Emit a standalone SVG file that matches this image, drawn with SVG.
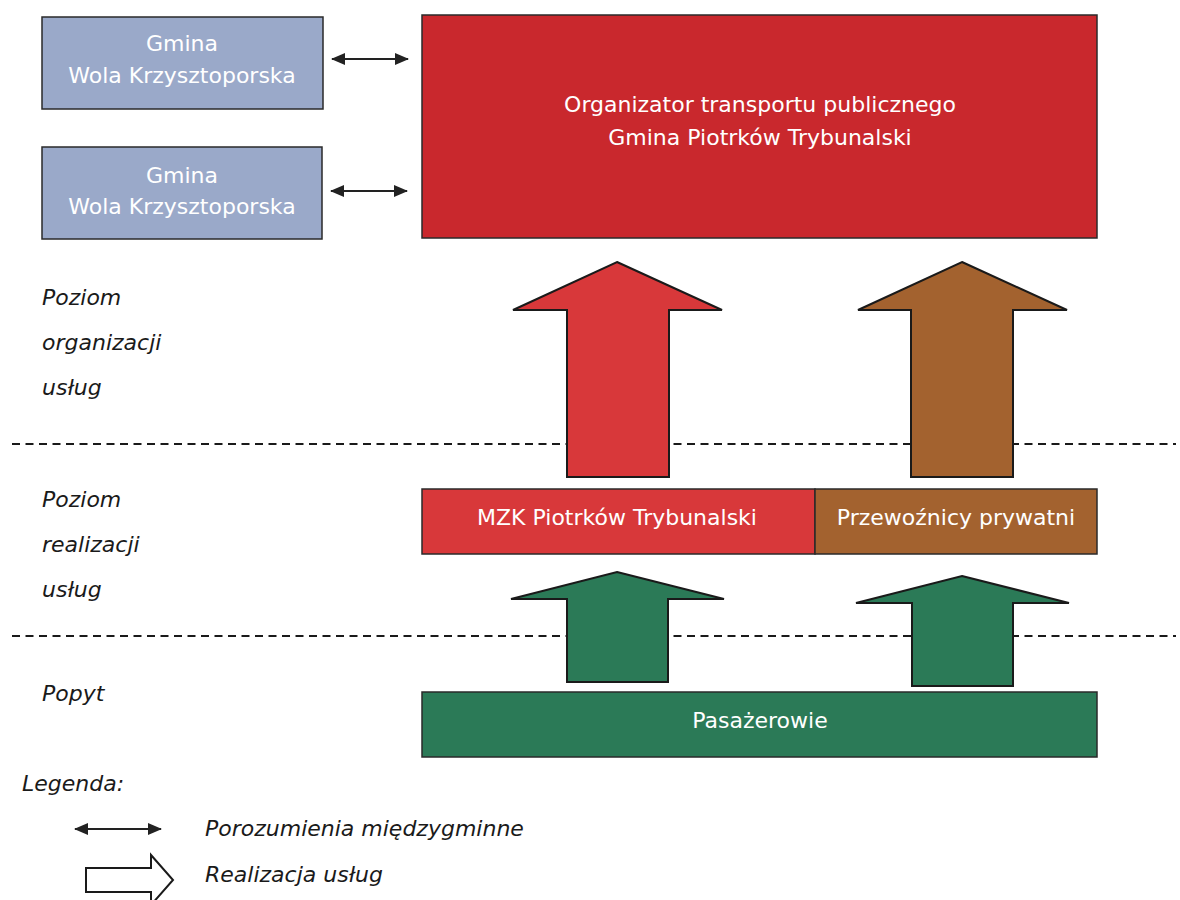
<svg xmlns="http://www.w3.org/2000/svg" width="1180" height="900" viewBox="0 0 1180 900">
<style>
.box{stroke:#2a2a2a;stroke-width:1.5}
.blue{fill:#9aa9c9}
.red{fill:#c9282d}
.red2{fill:#d8383a}
.brown{fill:#a3622f}
.green{fill:#2b7a57}
.wt{font-family:"DejaVu Sans",Verdana,sans-serif;font-size:22px;fill:#ffffff;text-anchor:middle}
.lbl{font-family:"DejaVu Sans",Verdana,sans-serif;font-style:italic;font-size:22px;fill:#1a1a1a}
.dash{stroke:#1a1a1a;stroke-width:2;stroke-dasharray:8 5.5;fill:none}
.conn{stroke:#222;stroke-width:2;fill:none}
.big{stroke:#1a1a1a;stroke-width:2;stroke-linejoin:miter}
</style>
<defs>
<marker id="ah" viewBox="0 0 14 12" refX="13" refY="6" markerWidth="14" markerHeight="12" markerUnits="userSpaceOnUse" orient="auto-start-reverse">
<path d="M0,0 L14,6 L0,12 Z" fill="#222"/>
</marker>
</defs>
<rect width="1180" height="900" fill="#ffffff"/>

<g id="levels">
<line class="dash" x1="12" y1="444" x2="1176" y2="444"/>
<line class="dash" x1="12" y1="636" x2="1176" y2="636"/>
<text class="lbl" x="42" y="305">Poziom</text>
<text class="lbl" x="42" y="350">organizacji</text>
<text class="lbl" x="42" y="395">usług</text>
<text class="lbl" x="42" y="507">Poziom</text>
<text class="lbl" x="42" y="552">realizacji</text>
<text class="lbl" x="42" y="597">usług</text>
<text class="lbl" x="42" y="701">Popyt</text>
</g>

<g id="gmina1">
<rect class="box blue" x="42" y="17" width="281" height="92"/>
<text class="wt" x="182" y="51">Gmina</text>
<text class="wt" x="182" y="83">Wola Krzysztoporska</text>
</g>
<g id="gmina2">
<rect class="box blue" x="42" y="147" width="280" height="92"/>
<text class="wt" x="182" y="183">Gmina</text>
<text class="wt" x="182" y="214">Wola Krzysztoporska</text>
</g>
<g id="organizator">
<rect class="box red" x="422" y="15" width="675" height="223"/>
<text class="wt" x="760" y="112">Organizator transportu publicznego</text>
<text class="wt" x="760" y="145">Gmina Piotrków Trybunalski</text>
</g>
<g id="mzk">
<rect class="box red2" x="422" y="489" width="393" height="65"/>
<text class="wt" x="617" y="525">MZK Piotrków Trybunalski</text>
</g>
<g id="przewoznicy">
<rect class="box brown" x="815" y="489" width="282" height="65"/>
<text class="wt" x="956" y="525">Przewoźnicy prywatni</text>
</g>
<g id="pasazerowie">
<rect class="box green" x="422" y="692" width="675" height="65"/>
<text class="wt" x="760" y="728">Pasażerowie</text>
</g>

<g id="connectors">
<line class="conn" x1="332" y1="59" x2="408" y2="59" marker-start="url(#ah)" marker-end="url(#ah)"/>
<line class="conn" x1="331" y1="191" x2="407" y2="191" marker-start="url(#ah)" marker-end="url(#ah)"/>
<path class="big red2" d="M617,262 L722,310 L669,310 L669,477 L567,477 L567,310 L513,310 Z"/>
<path class="big brown" d="M962,262 L1067,310 L1013,310 L1013,477 L911,477 L911,310 L858,310 Z"/>
<path class="big green" d="M617,572 L724,599 L668,599 L668,682 L567,682 L567,599 L511,599 Z"/>
<path class="big green" d="M962,576 L1069,603 L1013,603 L1013,686 L912,686 L912,603 L856,603 Z"/>
</g>

<g id="legend">
<text class="lbl" x="22" y="791">Legenda:</text>
<line class="conn" x1="75" y1="829" x2="161" y2="829" marker-start="url(#ah)" marker-end="url(#ah)"/>
<text class="lbl" x="205" y="836">Porozumienia międzygminne</text>
<path d="M86,868 L151,868 L151,855 L173,880 L151,905 L151,892 L86,892 Z" fill="#ffffff" stroke="#1a1a1a" stroke-width="2"/>
<text class="lbl" x="205" y="882">Realizacja usług</text>
</g>
</svg>
